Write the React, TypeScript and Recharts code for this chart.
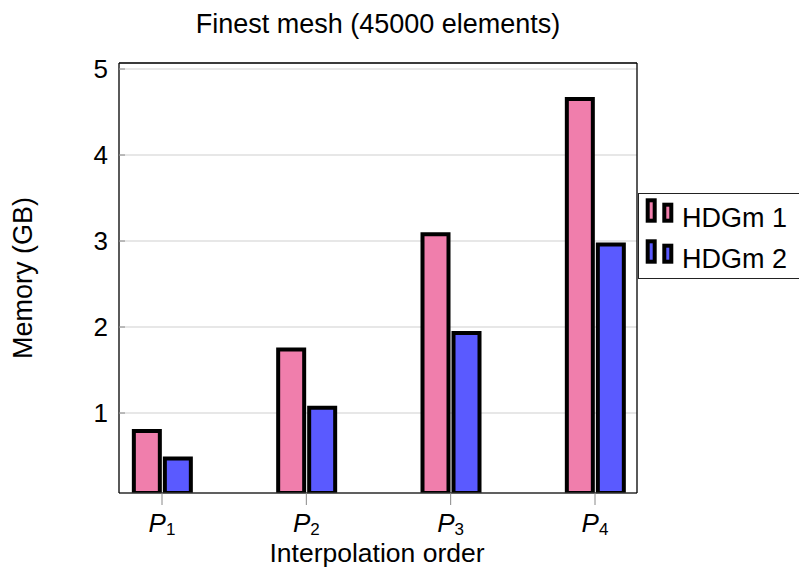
import React from 'react';
import { BarChart, Bar, XAxis, YAxis, CartesianGrid, Legend } from 'recharts';

const categories = [1, 2, 3, 4];
const categorySubscripts = ['1', '2', '3', '4'];
const hdgm1 = [0.79, 1.74, 3.08, 4.65];
const hdgm2 = [0.47, 1.06, 1.93, 2.96];
const seriesNames = ['HDGm 1', 'HDGm 2'];
const yTicks = [1, 2, 3, 4, 5];
const xDomain = [0.702, 4.291];
const yDomain = [0.07, 5.07];
const title = 'Finest mesh (45000 elements)';
const xLabel = 'Interpolation order';
const yLabel = 'Memory (GB)';

const PINK = '#F07EAC';
const BLUE = '#5A5AFF';
const FONT = '"Liberation Sans", Arial, sans-serif';

const data = categories.map((c, i) => ({ x: c, hdgm1: hdgm1[i], hdgm2: hdgm2[i] }));

const XTick = (props: any) => {
  const { x, y, payload } = props;
  const idx = categories.indexOf(payload.value);
  return (
    <text x={x} y={y + 27} textAnchor="middle" fontSize={26} fill="#000" fontFamily={FONT}>
      <tspan fontStyle="italic">P</tspan>
      <tspan fontSize={17} dy={3}>{categorySubscripts[idx]}</tspan>
    </text>
  );
};

const TitleLabel = (props: any) => {
  const vb = props.viewBox;
  return (
    <text x={vb.x + vb.width / 2} y={33} textAnchor="middle" fontSize={27} fill="#000" fontFamily={FONT}>
      {title}
    </text>
  );
};

const XAxisLabel = (props: any) => {
  const vb = props.viewBox;
  return (
    <text x={vb.x + vb.width / 2 - 1} y={vb.y + vb.height - 6} textAnchor="middle" fontSize={26.5} fill="#000" fontFamily={FONT}>
      {xLabel}
    </text>
  );
};

const YAxisLabel = (props: any) => {
  const vb = props.viewBox;
  const cx = vb.x + 22;
  const cy = vb.y + vb.height / 2;
  return (
    <text x={cx} y={cy} dy={10} transform={`rotate(-90 ${cx} ${cy})`} textAnchor="middle" fontSize={27} fill="#000" fontFamily={FONT}>
      {yLabel}
    </text>
  );
};

const LegendBox = () => {
  const colors = [PINK, BLUE];
  return (
    <svg width={165} height={87} style={{ display: 'block' }}>
      <rect x={0.5} y={0.5} width={220} height={85} fill="#fff" stroke="#222" strokeWidth={1} />
      {seriesNames.map((name, i) => {
        const base = i * 41;
        return (
          <g key={name}>
            <rect x={9.7} y={base + 7.3} width={7} height={20.4} fill={colors[i]} stroke="#000" strokeWidth={4} />
            <rect x={26.3} y={base + 11.7} width={7} height={16} fill={colors[i]} stroke="#000" strokeWidth={4} />
            <text x={44} y={base + 33.5} fontSize={27} fill="#000" fontFamily={FONT}>
              {name}
            </text>
          </g>
        );
      })}
    </svg>
  );
};

export default function App() {
  return (
    <div style={{ position: 'absolute', left: 0, top: 0, width: 799, height: 568, background: '#fff', fontFamily: FONT }}>
      <BarChart
        width={799}
        height={568}
        data={data}
        margin={{ top: 0, right: 152, bottom: 0, left: 0 }}
        barGap={5}
      >
        <CartesianGrid vertical={false} stroke="#d0d0d0" strokeWidth={1.2} />
        <XAxis
          dataKey="x"
          type="number"
          domain={xDomain}
          ticks={categories}
          allowDataOverflow
          height={75}
          tickSize={12}
          tickMargin={0}
          tickLine={{ stroke: '#888' }}
          axisLine={{ stroke: '#333', strokeWidth: 1.3 }}
          tick={<XTick />}
          label={<XAxisLabel />}
        />
        <XAxis
          xAxisId="top"
          orientation="top"
          dataKey="x"
          type="number"
          domain={xDomain}
          ticks={categories}
          allowDataOverflow
          height={63}
          tickSize={11}
          tick={false}
          tickLine={{ stroke: '#888' }}
          axisLine={{ stroke: '#000', strokeWidth: 1.3 }}
          label={<TitleLabel />}
        />
        <YAxis
          type="number"
          domain={yDomain}
          ticks={yTicks}
          allowDataOverflow
          width={119}
          tickSize={-6}
          tickMargin={17}
          tickLine={{ stroke: '#999', strokeWidth: 1.2 }}
          axisLine={{ stroke: '#000', strokeWidth: 1.3 }}
          tick={{ fill: '#000', fontSize: 26, fontFamily: FONT }}
          label={<YAxisLabel />}
        />
        <YAxis
          yAxisId="right"
          orientation="right"
          type="number"
          domain={yDomain}
          ticks={yTicks}
          allowDataOverflow
          width={10}
          tickSize={-6}
          tick={false}
          tickLine={{ stroke: '#999', strokeWidth: 1.2 }}
          axisLine={{ stroke: '#000', strokeWidth: 1.3 }}
        />
        <Legend
          layout="vertical"
          align="center"
          verticalAlign="middle"
          content={() => <LegendBox />}
          wrapperStyle={{ position: 'absolute', left: 638, top: 193, width: 165, height: 87, margin: 0, padding: 0 }}
        />
        <Bar dataKey="hdgm1" name={seriesNames[0]} fill={PINK} stroke="#000" strokeWidth={4} barSize={26} isAnimationActive={false} />
        <Bar dataKey="hdgm2" name={seriesNames[1]} fill={BLUE} stroke="#000" strokeWidth={4} barSize={26} isAnimationActive={false} />
      </BarChart>
    </div>
  );
}
